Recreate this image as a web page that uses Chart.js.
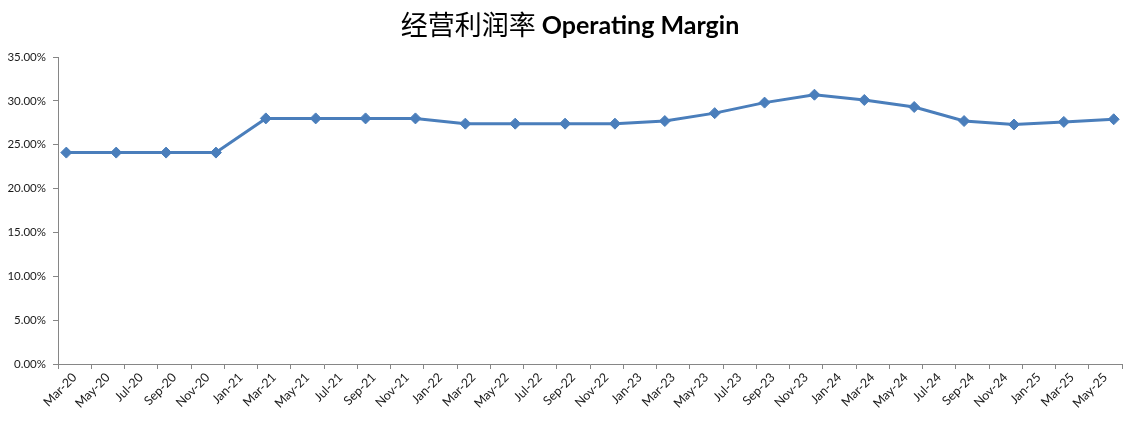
<!DOCTYPE html>
<html>
<head>
<meta charset="utf-8">
<script src="https://cdn.jsdelivr.net/npm/chart.js@4.4.1/dist/chart.umd.min.js"></script>
<style>
  html, body { margin: 0; padding: 0; background: #ffffff; }
  #wrap { width: 1145px; height: 429px; }
</style>
</head>
<body>
<div id="wrap"><canvas id="c" width="1145" height="429"></canvas></div>
<script>
// ---- data ----
const titleZh = '经营利润率';
const titleEn = 'Operating Margin';

const pointDates = ['Mar-20','Jun-20','Sep-20','Dec-20','Mar-21','Jun-21','Sep-21','Dec-21',
  'Mar-22','Jun-22','Sep-22','Dec-22','Mar-23','Jun-23','Sep-23','Dec-23',
  'Mar-24','Jun-24','Sep-24','Dec-24','Mar-25','Jun-25'];
const marginValues = [24.1, 24.1, 24.1, 24.1, 28.0, 28.0, 28.0, 28.0,
  27.4, 27.4, 27.4, 27.4, 27.7, 28.6, 29.8, 30.7,
  30.1, 29.3, 27.7, 27.3, 27.6, 27.9];

const xTickLabels = ['Mar-20','May-20','Jul-20','Sep-20','Nov-20',
  'Jan-21','Mar-21','May-21','Jul-21','Sep-21','Nov-21',
  'Jan-22','Mar-22','May-22','Jul-22','Sep-22','Nov-22',
  'Jan-23','Mar-23','May-23','Jul-23','Sep-23','Nov-23',
  'Jan-24','Mar-24','May-24','Jul-24','Sep-24','Nov-24',
  'Jan-25','Mar-25','May-25'];
const yTicks = [0, 5, 10, 15, 20, 25, 30, 35];

// ---- helpers ----
const monthNames = ['Jan','Feb','Mar','Apr','May','Jun','Jul','Aug','Sep','Oct','Nov','Dec'];
function monthIndex(label) {
  const [m, y] = label.split('-');
  return (2000 + parseInt(y, 10)) * 12 + monthNames.indexOf(m);
}
const baseMonth = monthIndex(xTickLabels[0]);
const monthSpan = xTickLabels.length * 2;
const points = pointDates.map((d, i) => ({ x: monthIndex(d) - baseMonth, y: marginValues[i] }));

const titlePlugin = {
  id: 'mixedTitle',
  afterDraw(chart) {
    const ctx = chart.ctx;
    ctx.save();
    const fZh = '27px "Noto Sans CJK SC"';
    const fEn = 'bold 25px Lato';
    ctx.font = fZh;
    const wZh = ctx.measureText(titleZh + ' ').width;
    ctx.font = fEn;
    const wEn = ctx.measureText(titleEn).width;
    const cx = 570;
    let x = cx - (wZh + wEn) / 2;
    const y = 25;
    ctx.textBaseline = 'middle';
    ctx.textAlign = 'left';
    ctx.fillStyle = '#000000';
    ctx.font = fZh;
    ctx.fillText(titleZh + ' ', x, y);
    ctx.font = fEn;
    ctx.fillText(titleEn, x + wZh, y + 1);
    ctx.restore();
  }
};

const axisColor = '#868686';

new Chart(document.getElementById('c'), {
  type: 'line',
  data: {
    datasets: [{
      data: points,
      xAxisID: 'xm',
      yAxisID: 'y',
      borderColor: '#4A7EBB',
      backgroundColor: '#4A7EBB',
      borderWidth: 3,
      pointStyle: 'rectRot',
      pointRadius: 5.5,
      pointHoverRadius: 5.5,
      pointBorderWidth: 1,
      tension: 0,
      fill: false
    }]
  },
  options: {
    responsive: false,
    devicePixelRatio: 1,
    animation: false,
    layout: { padding: { top: 57, right: 23, left: 0, bottom: 0 } },
    plugins: {
      legend: { display: false },
      title: { display: false },
      tooltip: { enabled: false }
    },
    scales: {
      x: {
        type: 'category',
        labels: xTickLabels,
        position: 'bottom',
        offset: true,
        afterFit(scale) { scale.height = 65; },
        grid: {
          display: true,
          drawOnChartArea: false,
          drawTicks: true,
          offset: true,
          tickLength: 5,
          color: axisColor
        },
        border: { display: true, color: axisColor, width: 1 },
        ticks: {
          autoSkip: false,
          minRotation: 45,
          maxRotation: 45,
          padding: 1,
          color: '#1a1a1a',
          font: { family: 'Lato', size: 12.5 }
        }
      },
      xm: {
        type: 'linear',
        display: false,
        min: -0.5,
        max: monthSpan - 0.5
      },
      y: {
        type: 'linear',
        min: 0,
        max: 35,
        afterFit(scale) { scale.width = 58; },
        afterBuildTicks(scale) { scale.ticks = yTicks.map(v => ({ value: v })); },
        grid: {
          display: true,
          drawOnChartArea: false,
          drawTicks: true,
          tickLength: 5,
          color: axisColor
        },
        border: { display: true, color: axisColor, width: 1 },
        ticks: {
          padding: 7,
          color: '#1a1a1a',
          font: { family: 'Lato', size: 11.5 },
          callback: v => v.toFixed(2) + '%'
        }
      }
    }
  },
  plugins: [titlePlugin]
});
</script>
</body>
</html>
